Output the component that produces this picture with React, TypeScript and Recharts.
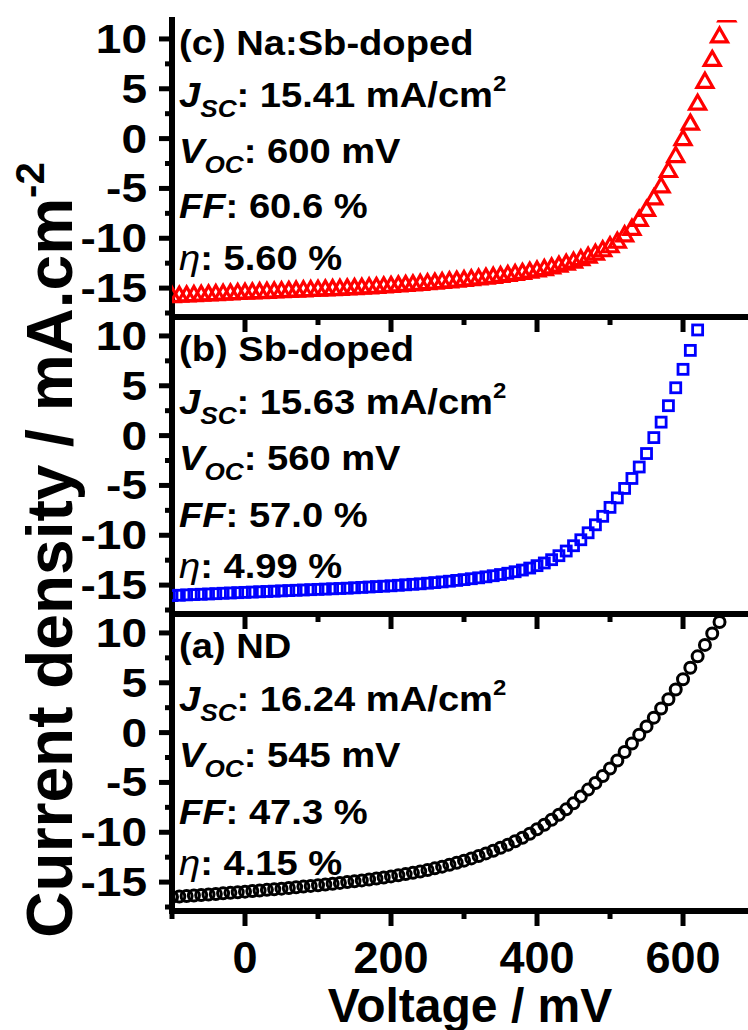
import React from "react";
import { ScatterChart, Scatter, XAxis, YAxis } from "recharts";

// voltage grid of the J-V sweep (mV)
const voltageMv = [
  -100, -90, -80, -70, -60, -50, -40, -30, -20, -10, 0, 10, 20, 30, 40, 50, 60, 70, 80, 90,
  100, 110, 120, 130, 140, 150, 160, 170, 180, 190, 200, 210, 220, 230, 240, 250, 260, 270, 280, 290,
  300, 310, 320, 330, 340, 350, 360, 370, 380, 390, 400, 410, 420, 430, 440, 450, 460, 470, 480, 490,
  500, 510, 520, 530, 540, 550, 560, 570, 580, 590, 600, 610, 620, 630, 640, 650, 660,
];

// (a) ND, -100 .. 650 mV
const jNd = [
  -16.5, -16.45, -16.4, -16.35, -16.29, -16.24, -16.19, -16.13, -16.08, -16.02,
  -15.96, -15.9, -15.84, -15.78, -15.72, -15.66, -15.59, -15.52, -15.45, -15.38,
  -15.31, -15.24, -15.16, -15.08, -15.0, -14.92, -14.83, -14.74, -14.64, -14.54,
  -14.43, -14.32, -14.2, -14.07, -13.93, -13.78, -13.62, -13.45, -13.26, -13.06,
  -12.85, -12.62, -12.38, -12.12, -11.85, -11.55, -11.25, -10.9, -10.55, -10.15,
  -9.7, -9.25, -8.75, -8.25, -7.7, -7.1, -6.4, -5.72, -5.05, -4.35,
  -3.6, -2.8, -1.95, -1.1, -0.22, 0.62, 1.5, 2.42, 3.35, 4.32,
  5.35, 6.5, 7.65, 8.8, 9.95, 11.1,
];

// (b) Sb-doped, -100 .. 620 mV
const jSbDoped = [
  -16.05, -16.02, -15.98, -15.95, -15.92, -15.89, -15.86, -15.82, -15.79, -15.76,
  -15.73, -15.7, -15.67, -15.64, -15.61, -15.58, -15.55, -15.52, -15.49, -15.46,
  -15.43, -15.4, -15.37, -15.34, -15.31, -15.27, -15.23, -15.19, -15.15, -15.11,
  -15.07, -15.02, -14.97, -14.92, -14.87, -14.81, -14.75, -14.68, -14.61, -14.53,
  -14.45, -14.36, -14.27, -14.17, -14.06, -13.94, -13.81, -13.66, -13.49, -13.29,
  -13.05, -12.78, -12.45, -12.05, -11.58, -11.05, -10.45, -9.75, -8.95, -8.1,
  -7.2, -6.25, -5.3, -4.3, -3.15, -1.8, -0.2, 1.35, 3.0, 4.8,
  6.65, 8.55, 10.6,
];

// (c) Na:Sb-doped, -100 .. 660 mV
const jNaSbDoped = [
  -15.75, -15.72, -15.68, -15.65, -15.61, -15.58, -15.55, -15.51, -15.48, -15.44,
  -15.41, -15.38, -15.35, -15.32, -15.29, -15.26, -15.23, -15.2, -15.17, -15.14,
  -15.11, -15.08, -15.05, -15.02, -14.98, -14.95, -14.91, -14.87, -14.83, -14.78,
  -14.73, -14.68, -14.63, -14.58, -14.52, -14.46, -14.4, -14.34, -14.27, -14.2,
  -14.13, -14.06, -13.98, -13.9, -13.82, -13.73, -13.63, -13.53, -13.42, -13.3,
  -13.18, -13.04, -12.88, -12.7, -12.5, -12.3, -12.05, -11.8, -11.5, -11.15,
  -10.75, -10.3, -9.65, -9.0, -8.1, -7.1, -5.95, -4.75, -3.2, -1.7,
  0.0, 1.55, 3.55, 5.75, 7.95, 10.3, 12.4,
];

const xTicks = [-100, 0, 100, 200, 300, 400, 500, 600];
const yTicks = [-17.5, -15, -12.5, -10, -7.5, -5, -2.5, 0, 2.5, 5, 7.5, 10];

const panelLabels = ["(c) Na:Sb-doped", "(b) Sb-doped", "(a) ND"];
const jscText = ["15.41", "15.63", "16.24"];
const vocText = ["600", "560", "545"];
const ffText = ["60.6", "57.0", "47.3"];
const etaText = ["5.60", "4.99", "4.15"];

const FONT = "'Liberation Sans', Arial, Helvetica, sans-serif";
const AXIS_W = 6;
const PLOT_LEFT = 172;
const PLOT_H = 297;
const X_DOMAIN = [-100, 689];
const Y_DOMAIN = [-17.9, 11.9];

const toPoints = (j: number[]) => j.map((val, i) => ({ v: voltageMv[i], j: val }));

const Triangle = (p: any) => (
  <path
    d={`M${p.cx},${p.cy - 8}L${p.cx + 8},${p.cy + 6}L${p.cx - 8},${p.cy + 6}Z`}
    fill="none" stroke="#FF0000" strokeWidth={3.2}
  />
);
const Square = (p: any) => (
  <rect x={p.cx - 5} y={p.cy - 5} width={10} height={10} fill="none" stroke="#0000FF" strokeWidth={2.8} />
);
const Circle = (p: any) => (
  <circle cx={p.cx} cy={p.cy} r={5.5} fill="none" stroke="#000" strokeWidth={3} />
);

const YTick = (props: any) => {
  const { x, y, payload } = props;
  const v = payload.value;
  const major = v % 5 === 0;
  return (
    <g>
      <line x1={x} x2={x - (major ? 13 : 7)} y1={y} y2={y} stroke="#000" strokeWidth={5} />
      {major && (
        <text
          transform={`translate(${x - 25},${y + 14}) scale(1.15,1)`}
          textAnchor="end" fontFamily={FONT} fontWeight={700} fontSize={40} fill="#000"
        >
          {v}
        </text>
      )}
    </g>
  );
};

const XTick = (props: any) => {
  const { x, y, payload, showLabel } = props;
  const v = payload.value;
  const major = v % 200 === 0;
  return (
    <g>
      <line x1={x} x2={x} y1={y} y2={y + (major ? 15 : 8)} stroke="#000" strokeWidth={5} />
      {showLabel && major && (
        <text
          x={x} y={y + 62}
          textAnchor="middle" fontFamily={FONT} fontWeight={700} fontSize={45} fill="#000"
        >
          {v}
        </text>
      )}
    </g>
  );
};

interface PanelProps {
  data: { v: number; j: number }[];
  shape: any;
  top: number;
  bottomPanel?: boolean;
  topBorder?: boolean;
}

function Panel({ data, shape, top, bottomPanel, topBorder }: PanelProps) {
  const mt = 10;
  const xh = bottomPanel ? 80 : 20;
  const axisLine = { stroke: "#000", strokeWidth: AXIS_W, strokeLinecap: "square" as const };
  return (
    <div style={{ position: "absolute", left: 0, top: top - mt }}>
      <ScatterChart
        width={748}
        height={mt + PLOT_H + xh}
        margin={{ top: mt, right: 0, bottom: 0, left: 0 }}
      >
        <XAxis
          type="number"
          dataKey="v"
          domain={X_DOMAIN}
          allowDataOverflow
          ticks={xTicks}
          interval={0}
          tickSize={0}
          tickMargin={0}
          tickLine={false}
          axisLine={axisLine}
          height={xh}
          tick={(p: any) => <XTick {...p} showLabel={bottomPanel} />}
        />
        {topBorder && (
          <XAxis
            xAxisId="top"
            orientation="top"
            type="number"
            domain={X_DOMAIN}
            height={0}
            tick={false}
            tickLine={false}
            axisLine={axisLine}
          />
        )}
        <YAxis
          type="number"
          dataKey="j"
          domain={Y_DOMAIN}
          allowDataOverflow
          ticks={yTicks}
          interval={0}
          tickSize={0}
          tickMargin={0}
          tickLine={false}
          axisLine={axisLine}
          width={PLOT_LEFT}
          tick={<YTick />}
        />
        <Scatter data={data} shape={shape} isAnimationActive={false} />
      </ScatterChart>
    </div>
  );
}

function Annotation({ idx, top, offsets }: { idx: number; top: number; offsets: number[] }) {
  const x = 179;
  const sx = 1.09;
  const base = { fontFamily: FONT, fontWeight: 700, fontSize: 35, fill: "#000" };
  const at = (i: number) => `translate(${x},${top + offsets[i]}) scale(${sx},1)`;
  return (
    <g>
      <text transform={at(0)} {...base}>{panelLabels[idx]}</text>
      <text transform={at(1)} {...base}>
        <tspan fontStyle="italic">J</tspan>
        <tspan fontStyle="italic" fontSize={24} dy={10}>SC</tspan>
        <tspan dy={-10}>{`: ${jscText[idx]} mA/cm`}</tspan>
        <tspan fontSize={22} dy={-16}>2</tspan>
      </text>
      <text transform={at(2)} {...base}>
        <tspan fontStyle="italic">V</tspan>
        <tspan fontStyle="italic" fontSize={24} dy={10}>OC</tspan>
        <tspan dy={-10}>{`: ${vocText[idx]} mV`}</tspan>
      </text>
      <text transform={at(3)} {...base}>
        <tspan fontStyle="italic">FF</tspan>
        <tspan>{`: ${ffText[idx]} %`}</tspan>
      </text>
      <text transform={at(4)} {...base}>
        <tspan fontStyle="italic" fontWeight={400}>η</tspan>
        <tspan>{`: ${etaText[idx]} %`}</tspan>
      </text>
    </g>
  );
}

export default function App() {
  const tops = [20, 317, 614];
  const upperOffsets = [35, 87, 143, 198, 250];
  const lowerOffsets = [44, 97, 153, 210, 261];
  return (
    <div style={{ position: "absolute", left: 0, top: 0, width: 748, height: 1030, background: "#fff", overflow: "hidden" }}>
      <Panel data={toPoints(jNaSbDoped)} shape={Triangle} top={tops[0]} topBorder />
      <Panel data={toPoints(jSbDoped)} shape={Square} top={tops[1]} />
      <Panel data={toPoints(jNd)} shape={Circle} top={tops[2]} bottomPanel />
      <svg width={748} height={1030} style={{ position: "absolute", left: 0, top: 0, pointerEvents: "none" }}>
        <Annotation idx={0} top={tops[0]} offsets={upperOffsets} />
        <Annotation idx={1} top={tops[1]} offsets={lowerOffsets} />
        <Annotation idx={2} top={tops[2]} offsets={lowerOffsets} />
        <text
          transform="translate(72,550) rotate(-90)"
          textAnchor="middle"
          fontFamily={FONT}
          fontWeight={700}
          fontSize={64}
          fill="#000"
        >
          Current density / mA.cm<tspan fontSize={40} dy={-28}>-2</tspan>
        </text>
        <text
          x={470} y={1022}
          textAnchor="middle" fontFamily={FONT} fontWeight={700} fontSize={48} fill="#000"
        >
          Voltage / mV
        </text>
      </svg>
    </div>
  );
}
